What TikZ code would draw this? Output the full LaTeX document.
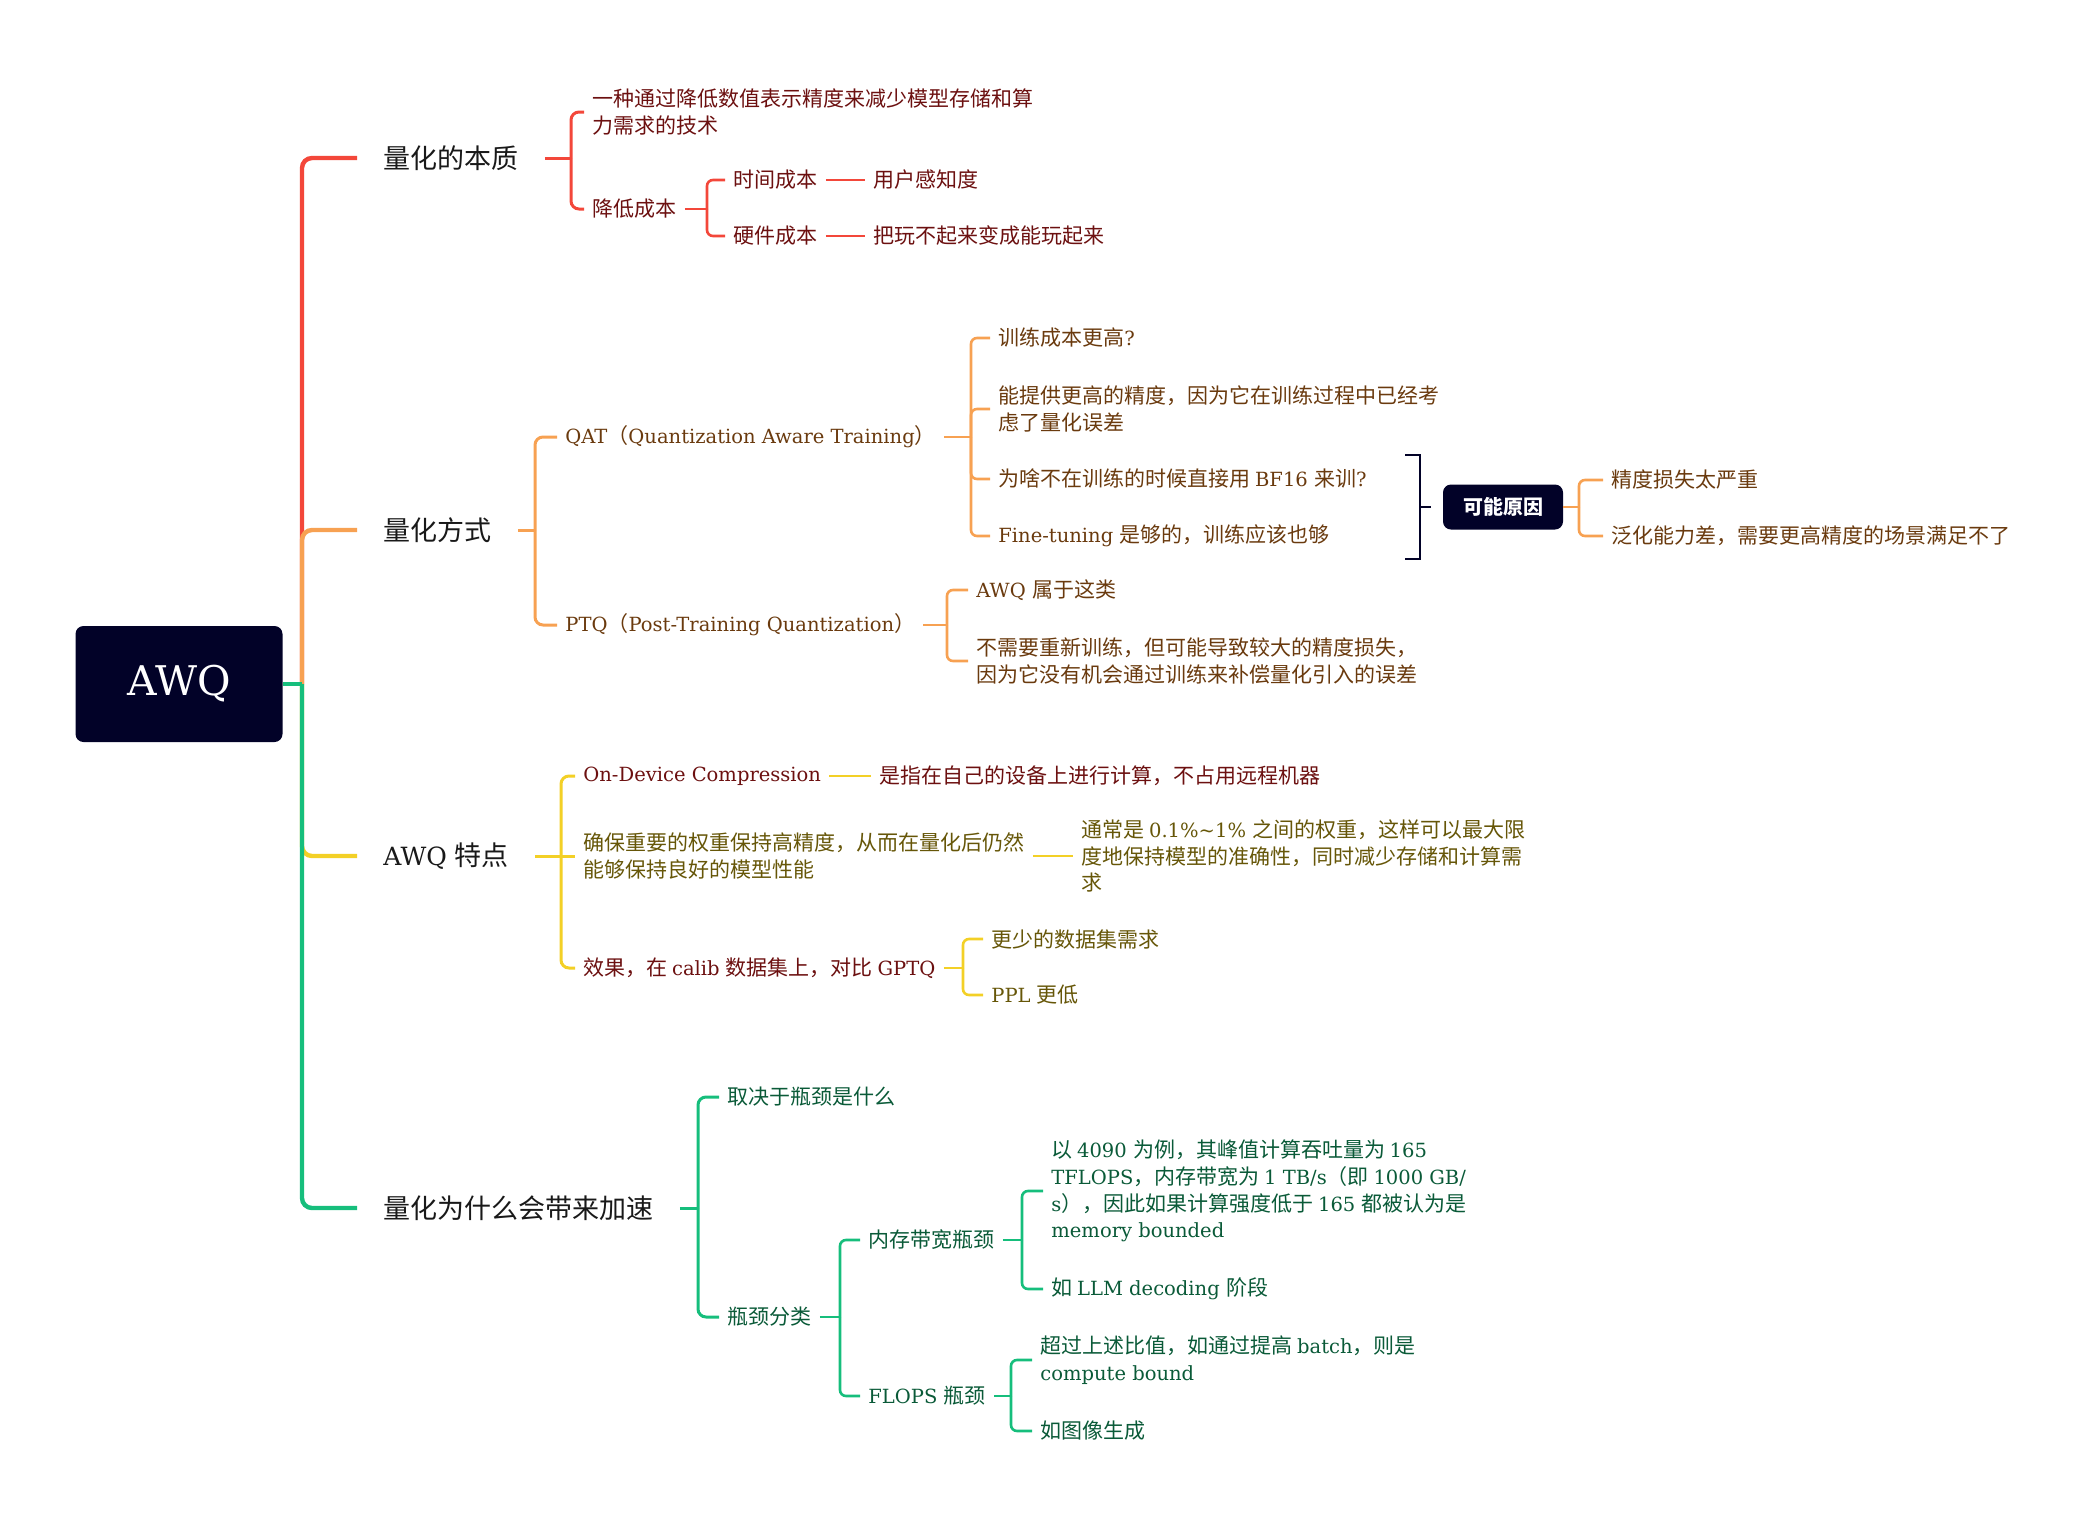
\documentclass[tikz,border=0pt]{standalone}
\usepackage{fontspec}
\setmainfont{DejaVu Serif}[Scale=0.93]
\newfontfamily\cjk{Noto Sans CJK SC}
%% Chinese runs in Noto Sans CJK, Latin runs in the serif
\XeTeXinterchartokenstate=1
\newXeTeXintercharclass\zhcls
\newcount\zhcnt
\def\zhrange#1#2{\zhcnt=#1\relax
  \loop\XeTeXcharclass\zhcnt=\zhcls
  \ifnum\zhcnt<#2\advance\zhcnt by 1\repeat}
\zhrange{"3000}{"303F}
\zhrange{"4E00}{"9FFF}
\zhrange{"FF00}{"FFEF}
\XeTeXinterchartoks 0 \zhcls = {\cjk}
\XeTeXinterchartoks 4095 \zhcls = {\cjk}
\XeTeXinterchartoks \zhcls 0 = {\rmfamily}
\XeTeXinterchartoks 4095 0 = {\rmfamily}
\definecolor{redline}{RGB}{243,71,58}
\definecolor{redtext}{RGB}{108,16,16}
\definecolor{orangeline}{RGB}{247,161,82}
\definecolor{orangetext}{RGB}{106,58,14}
\definecolor{yellowline}{RGB}{243,208,38}
\definecolor{yellowtext}{RGB}{102,86,8}
\definecolor{greenline}{RGB}{22,190,124}
\definecolor{greentext}{RGB}{10,90,56}
\definecolor{navy}{RGB}{2,2,40}
\begin{document}
\begin{tikzpicture}[x=0.5pt,y=-0.5pt,
    every node/.style={inner ysep=1pt,inner xsep=4pt,anchor=west,align=left,
      font=\cjk\fontsize{10.5}{13.3}\selectfont},
    topic/.style={inner xsep=13pt,text=black!90,font=\cjk\fontsize{13.5}{16}\selectfont},
    hub/.style={anchor=center,fill=navy,text=white,rounded corners=4pt},
    limb/.style={line width=2.2pt,rounded corners=5pt},
    arm/.style={line width=1.5pt,rounded corners=4pt},
    twig/.style={line width=1.3pt,rounded corners=3pt}]
    \useasboundingbox (0,0) rectangle (2095,1527);
    %% root and main topics
    \node[hub,minimum width=103.5pt,minimum height=58pt,
      font=\rmfamily\fontsize{22}{24}\selectfont] (awq) at (179,684) {AWQ};
    \coordinate (trunk) at (302,684);
    \node[topic] (ess) at (357,158) {量化的本质};
    \node[topic] (way) at (357,530) {量化方式};
    \node[topic] (feat) at (357,856) {AWQ 特点};
    \node[topic] (fast) at (357,1208) {量化为什么会带来加速};
    %% 量化的本质
    \begin{scope}[redline,every node/.append style={text=redtext}]
        \coordinate (ess-j) at (571,158);
        \node (ess-a) at (584,112) {一种通过降低数值表示精度来减少模型存储和算\\力需求的技术};
        \node (ess-b) at (584,209) {降低成本};
        \coordinate (essb-j) at (707,209);
        \node (essb-a) at (725,180) {时间成本};
        \node (essb-b) at (725,236) {硬件成本};
        \node (time-x) at (865,180) {用户感知度};
        \node (cost-x) at (865,236) {把玩不起来变成能玩起来};
        \draw[limb] (trunk) |- (ess.west);
        \draw[arm] (ess.east) -- (ess-j);
        \foreach \c in {ess-a,ess-b}
            \draw[arm] (ess-j) |- (\c.west);
        \draw[twig] (ess-b.east) -- (essb-j);
        \foreach \c in {essb-a,essb-b}
            \draw[twig] (essb-j) |- (\c.west);
        \draw[twig] (essb-a.east) -- (time-x.west);
        \draw[twig] (essb-b.east) -- (cost-x.west);
    \end{scope}
    %% 量化方式
    \begin{scope}[orangeline,every node/.append style={text=orangetext}]
        \coordinate (way-j) at (535,530);
        \node (qat) at (557,437) {QAT（Quantization Aware Training）};
        \node (ptq) at (557,625) {PTQ（Post-Training Quantization）};
        \coordinate (qat-j) at (971,437);
        \node (qat-a) at (990,338) {训练成本更高?};
        \node (qat-b) at (990,409) {能提供更高的精度，因为它在训练过程中已经考\\虑了量化误差};
        \node (qat-c) at (990,479) {为啥不在训练的时候直接用 BF16 来训?};
        \node (qat-d) at (990,536) {Fine-tuning 是够的，训练应该也够};
        \coordinate (ptq-j) at (947,625);
        \node (ptq-a) at (968,590) {AWQ 属于这类};
        \node (ptq-b) at (968,661) {不需要重新训练，但可能导致较大的精度损失，\\因为它没有机会通过训练来补偿量化引入的误差};
        %% summary of the last two
        \coordinate (sum-t) at (1405,455);
        \coordinate (sum-m) at (1420,507);
        \coordinate (sum-b) at (1405,559);
        \node[hub,minimum width=60pt,minimum height=22.5pt,
          font=\cjk\bfseries\fontsize{10}{12}\selectfont] (cause) at (1503,507) {可能原因};
        \coordinate (cause-j) at (1579,507);
        \node (cause-a) at (1603,480) {精度损失太严重};
        \node (cause-b) at (1603,536) {泛化能力差，需要更高精度的场景满足不了};
        \draw[limb] (trunk) |- (way.west);
        \draw[arm] (way.east) -- (way-j);
        \foreach \c in {qat,ptq}
            \draw[arm] (way-j) |- (\c.west);
        \draw[twig] (qat.east) -- (qat-j);
        \foreach \c in {qat-a,qat-b,qat-c,qat-d}
            \draw[twig] (qat-j) |- (\c.west);
        \draw[twig] (ptq.east) -- (ptq-j);
        \foreach \c in {ptq-a,ptq-b}
            \draw[twig] (ptq-j) |- (\c.west);
        \draw[navy,line width=1.3pt] (sum-t) -| (sum-m) |- (sum-b);
        \draw[navy,line width=1.3pt,shorten >=6pt] (sum-m) -- (cause.west);
        \draw[twig] (cause.east) -- (cause-j);
        \foreach \c in {cause-a,cause-b}
            \draw[twig] (cause-j) |- (\c.west);
    \end{scope}
    %% AWQ 特点
    \begin{scope}[yellowline,every node/.append style={text=yellowtext}]
        \coordinate (feat-j) at (561,856);
        \node[text=redtext] (feat-a) at (575,776) {On-Device Compression};
        \node (feat-b) at (575,856) {确保重要的权重保持高精度，从而在量化后仍然\\能够保持良好的模型性能};
        \node[text=redtext] (feat-c) at (575,968) {效果，在 calib 数据集上，对比 GPTQ};
        \node[text=redtext] (feat-ax) at (871,776) {是指在自己的设备上进行计算，不占用远程机器};
        \node (feat-bx) at (1073,856) {通常是 0.1\%\textasciitilde 1\% 之间的权重，这样可以最大限\\度地保持模型的准确性，同时减少存储和计算需\\求};
        \coordinate (featc-j) at (963,968);
        \node (featc-a) at (983,939) {更少的数据集需求};
        \node (featc-b) at (983,995) {PPL 更低};
        \draw[limb] (trunk) |- (feat.west);
        \draw[arm] (feat.east) -- (feat-j);
        \foreach \c in {feat-a,feat-c}
            \draw[arm] (feat-j) |- (\c.west);
        \draw[arm] (feat-j) -- (feat-b.west);
        \draw[twig] (feat-a.east) -- (feat-ax.west);
        \draw[twig] (feat-b.east) -- (feat-bx.west);
        \draw[twig] (feat-c.east) -- (featc-j);
        \foreach \c in {featc-a,featc-b}
            \draw[twig] (featc-j) |- (\c.west);
    \end{scope}
    %% 量化为什么会带来加速
    \begin{scope}[greenline,every node/.append style={text=greentext}]
        \coordinate (fast-j) at (698,1208);
        \node (fast-a) at (719,1097) {取决于瓶颈是什么};
        \node (fast-b) at (719,1317) {瓶颈分类};
        \coordinate (fastb-j) at (840,1317);
        \node (mem) at (860,1240) {内存带宽瓶颈};
        \node (flops) at (860,1396) {FLOPS 瓶颈};
        \coordinate (mem-j) at (1022,1240);
        \node (mem-a) at (1043,1191) {以 4090 为例，其峰值计算吞吐量为 165\\TFLOPS，内存带宽为 1 TB/s（即 1000 GB/\\s），因此如果计算强度低于 165 都被认为是\\memory bounded};
        \node (mem-b) at (1043,1289) {如 LLM decoding 阶段};
        \coordinate (flops-j) at (1011,1396);
        \node (flops-a) at (1032,1360) {超过上述比值，如通过提高 batch，则是\\compute bound};
        \node (flops-b) at (1032,1431) {如图像生成};
        \draw[limb] (trunk) |- (fast.west);
        \draw[arm] (fast.east) -- (fast-j);
        \foreach \c in {fast-a,fast-b}
            \draw[arm] (fast-j) |- (\c.west);
        \draw[twig] (fast-b.east) -- (fastb-j);
        \foreach \c in {mem,flops}
            \draw[twig] (fastb-j) |- (\c.west);
        \draw[twig] (mem.east) -- (mem-j);
        \foreach \c in {mem-a,mem-b}
            \draw[twig] (mem-j) |- (\c.west);
        \draw[twig] (flops.east) -- (flops-j);
        \foreach \c in {flops-a,flops-b}
            \draw[twig] (flops-j) |- (\c.west);
        \draw[limb] (awq.east) -- (trunk);
    \end{scope}
\end{tikzpicture}
\end{document}
